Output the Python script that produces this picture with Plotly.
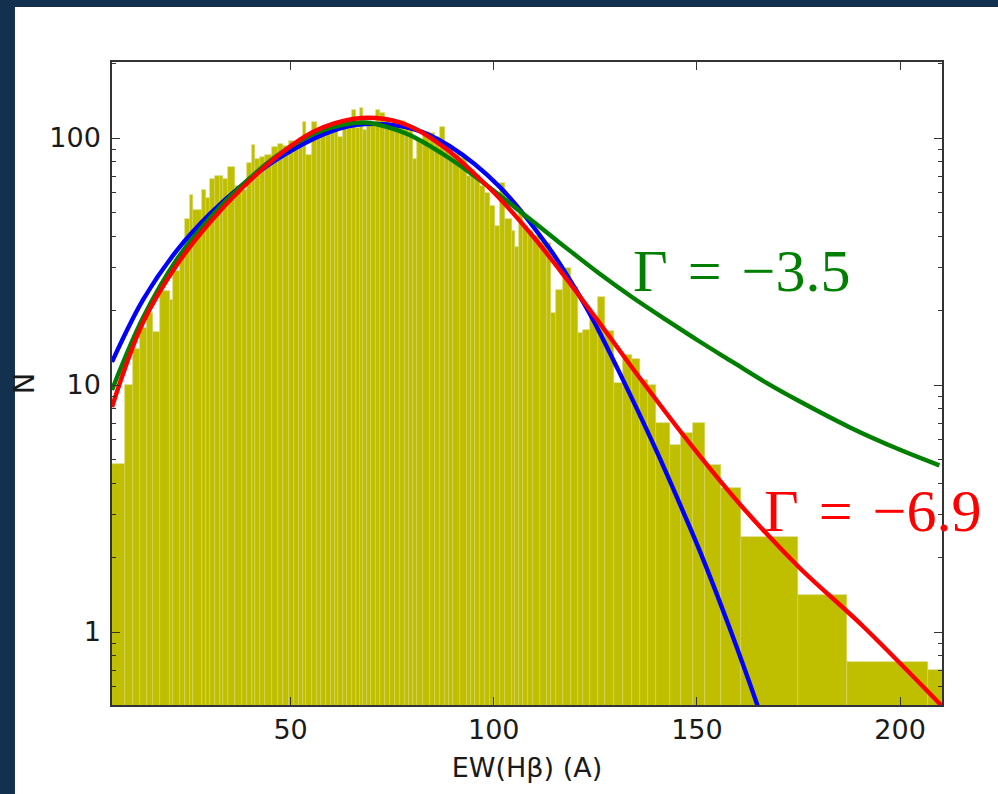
import plotly.graph_objects as go

# ---------------- data ----------------
bin_edges = [6.06, 9.26, 11.3, 13.0, 14.6, 16.2, 17.9, 20.3, 21.1, 22.7,
             24.0, 25.2, 26.05, 28.1, 29.3, 30.2, 31.4, 32.6, 33.4, 34.7,
             36.3, 38.0, 39.2, 40.4, 41.2, 42.5, 43.8, 45.5, 46.8, 48.2,
             49.5, 50.8, 52.1, 53.1, 53.9, 55.2, 56.4, 57.6, 58.8, 60.0,
             60.9, 61.7, 62.9, 64.0, 65.0, 66.1, 67.0, 67.9, 68.7, 69.7,
             71.1, 71.9, 73.2, 74.4, 75.6, 76.9, 78.1, 79.1, 80.1, 81.0,
             82.6, 84.3, 85.5, 86.7, 87.9, 89.0, 90.0, 91.6, 93.3, 94.5,
             95.5, 96.5, 97.8, 99.0, 100.2, 101.5, 102.7, 104.4, 105.2, 106.2,
             107.2, 108.5, 109.7, 111.3, 113.0, 114.2, 115.4, 117.1, 119.1, 120.8,
             122.0, 123.7, 125.7, 127.4, 129.7, 131.8, 133.9, 135.9, 137.9, 140.0,
             143.3, 146.1, 149.0, 151.9, 156.0, 160.9, 174.8, 187.0, 206.9, 212.0]

bin_counts = [4.8, 10.0, 14, 17, 19.5, 16.4, 24, 22, 29, 33,
              47, 59, 51, 61.5, 57, 68, 70, 70, 68, 76.5,
              64, 61.5, 79, 93.5, 82, 84, 85, 92, 95, 93,
              97, 96, 100, 116, 85, 116, 105, 108, 110, 107,
              112, 101, 112, 110, 130, 110, 132, 108, 116, 113,
              130, 126, 117, 113, 116, 117, 112, 110, 82, 98,
              106, 105, 101, 111, 94, 91, 86, 83, 70, 74,
              71, 64, 60, 53, 44, 65.5, 47, 42, 36.3, 51,
              44, 42, 40, 38, 37.6, 19.6, 24.3, 29.8, 25, 16.2,
              16.7, 18.9, 22.8, 16.5, 10.2, 13.2, 12.8, 10.5, 10, 7.0,
              5.7, 6.4, 7.0, 4.74, 3.83, 2.43, 1.41, 0.757, 0.70]

blue_x = [6.06, 13.68, 22.04, 30.16, 38.27, 46.63, 59.66, 68.27, 80.07, 89.17,
          101.46, 113.76, 121.13, 124.33, 130.97, 140.07, 146.46, 150.64, 158.02,
          164.90, 170.31]
blue_y = [12.4, 22.1, 35.1, 49.3, 64.9, 82.0, 105.9, 113.8, 108.9, 92.7,
          63.4, 35.6, 22.9, 18.5, 11.2, 5.40, 3.11, 2.14, 1.04, 0.504, 0.274]

red_x = [6.06, 13.68, 22.04, 30.16, 38.27, 47.37, 55.98, 65.32, 73.19, 80.07,
         88.19, 96.54, 101.46, 109.58, 116.96, 125.32, 135.89, 148.19, 161.22,
         175.23, 190.48, 209.65, 214.57]
red_y = [8.15, 17.9, 30.7, 45.6, 63.2, 85.9, 106.7, 119.4, 119.4, 110.4,
         90.6, 68.4, 56.9, 40.1, 28.2, 18.5, 10.7, 5.82, 3.20,
         1.82, 1.07, 0.514, 0.424]

green_x = [6.06, 13.68, 22.04, 30.16, 38.27, 46.63, 57.20, 68.27, 76.87, 80.07,
           89.17, 96.54, 101.46, 111.30, 118.68, 126.05, 134.17, 142.53, 150.64,
           158.75, 167.11, 175.23, 187.52, 199.82, 209.65]
green_y = [9.55, 18.7, 32.3, 47.5, 64.9, 84.7, 106.4, 115.6, 106.7, 101.4,
           82.6, 67.6, 58.6, 43.7, 35.0, 28.2, 22.6, 18.3, 15.0,
           12.4, 10.2, 8.59, 6.75, 5.48, 4.73]

x_ticks = [50, 100, 150, 200]
y_ticks = [1, 10, 100]
y_minor = [0.6, 0.7, 0.8, 0.9, 2, 3, 4, 5, 6, 7, 8, 9,
           20, 30, 40, 50, 60, 70, 80, 90, 200]

label_green = "Γ\u200a = \u200a−3.5"
label_red = "Γ\u200a = \u200a−6.9"

# ---------------- figure ----------------
centers = [(a + b) / 2 for a, b in zip(bin_edges[:-1], bin_edges[1:])]
widths = [b - a for a, b in zip(bin_edges[:-1], bin_edges[1:])]

fig = go.Figure()
fig.add_trace(go.Bar(x=centers, y=bin_counts, width=widths,
                     marker=dict(color="#bfbf00",
                                 line=dict(color="#d4d466", width=0.6)),
                     showlegend=False))
fig.add_trace(go.Scatter(x=blue_x, y=blue_y, mode="lines",
                         line=dict(color="#0000ff", width=4.4, shape="spline"),
                         showlegend=False))
fig.add_trace(go.Scatter(x=green_x, y=green_y, mode="lines",
                         line=dict(color="#007f00", width=4.4, shape="spline"),
                         showlegend=False))
fig.add_trace(go.Scatter(x=red_x, y=red_y, mode="lines",
                         line=dict(color="#ff0000", width=4.4, shape="spline"),
                         showlegend=False))

axis_font = dict(family="DejaVu Sans", size=27, color="#1a1a1a")

fig.update_layout(
    width=998, height=794,
    margin=dict(l=112, r=56, t=62, b=89, autoexpand=False),
    paper_bgcolor="#13304e",
    plot_bgcolor="white",
    bargap=0,
    shapes=[dict(type="rect", xref="paper", yref="paper",
                 x0=-0.1169, x1=1.1, y0=-0.2, y1=1.0855,
                 fillcolor="white", line=dict(width=0), layer="below")],
    xaxis=dict(range=[6.06, 210.3], tickvals=x_ticks,
               ticks="inside", ticklen=8, tickwidth=1.2, tickcolor="#333",
               showline=True, linecolor="#333", linewidth=1.5, mirror="ticks",
               showgrid=False, zeroline=False, tickfont=axis_font,
               title=dict(text="EW(Hβ) (A)", font=dict(family="DejaVu Sans", size=27, color="#1a1a1a"),
                          standoff=14)),
    yaxis=dict(type="log", range=[-0.2955, 2.3077], tickvals=y_ticks,
               ticktext=[str(v) for v in y_ticks],
               ticks="inside", ticklen=8, tickwidth=1.2, tickcolor="#333",
               minor=dict(tickvals=y_minor, ticks="inside", ticklen=4,
                          tickwidth=1, tickcolor="#333"),
               showline=True, linecolor="#333", linewidth=1.5, mirror="ticks",
               showgrid=False, zeroline=False, tickfont=axis_font,
               ticklabelstandoff=4,
               title=dict(text="N", font=dict(family="DejaVu Sans", size=29, color="#1a1a1a"),
                          standoff=6)),
    annotations=[
        dict(x=160.97, y=1.4615, xref="x", yref="y", text=label_green,
             showarrow=False, xanchor="center", yanchor="middle",
             font=dict(family="Liberation Serif", size=60, color="#007f00")),
        dict(x=193.18, y=0.4899, xref="x", yref="y", text=label_red,
             showarrow=False, xanchor="center", yanchor="middle",
             font=dict(family="Liberation Serif", size=60, color="#ff0000")),
    ],
)

fig.write_html("out.html")
